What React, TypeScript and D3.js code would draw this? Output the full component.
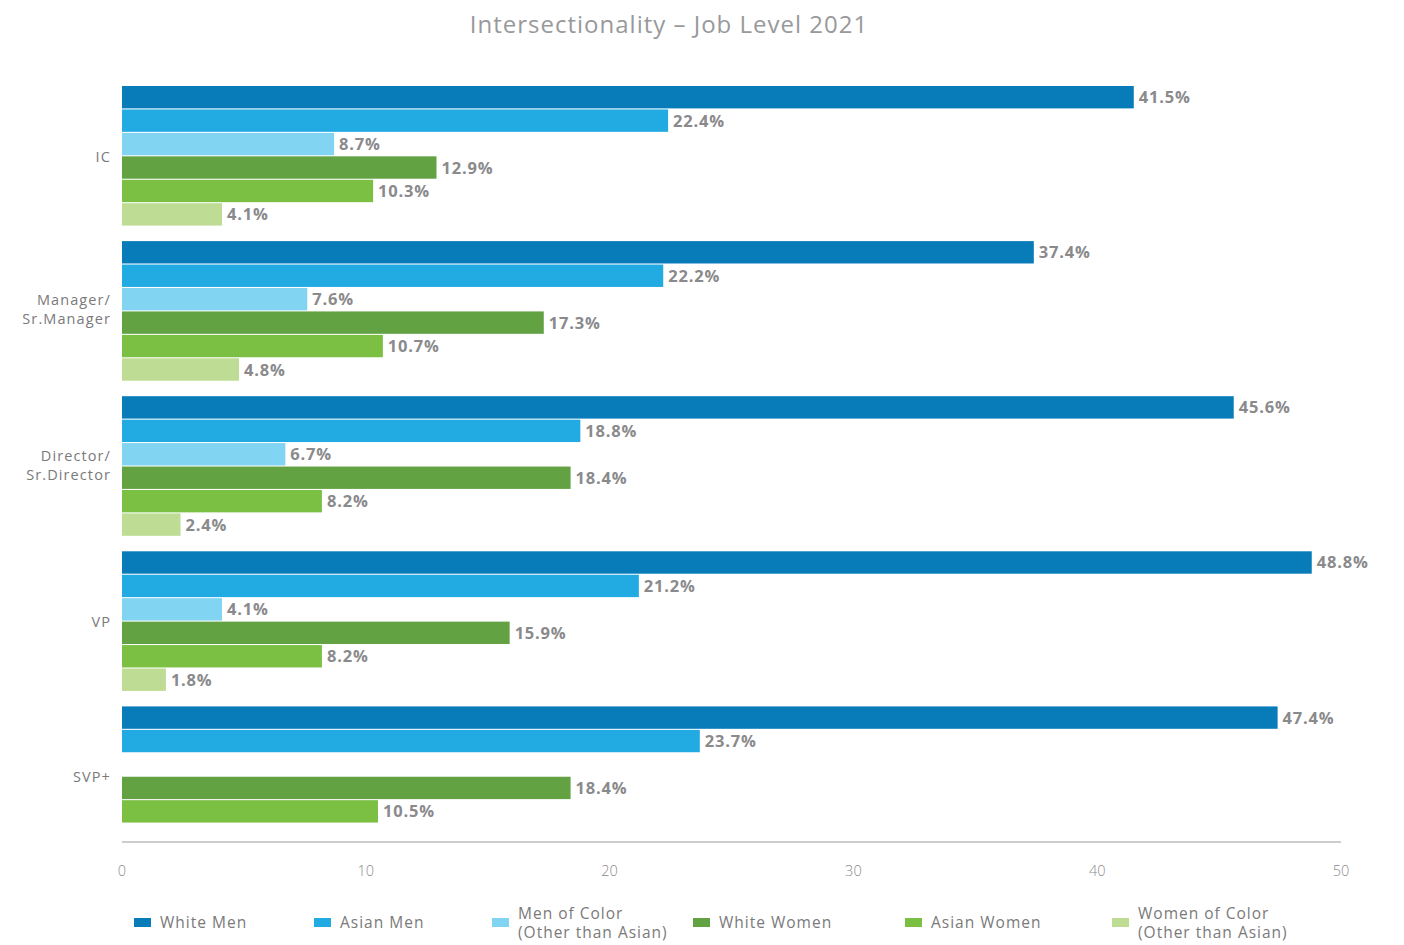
import React from "react";
import * as d3 from "d3";

const title = "Intersectionality – Job Level 2021";
const categories = ["IC", "Manager/\nSr.Manager", "Director/\nSr.Director", "VP", "SVP+"];
const seriesNames = [
  "White Men",
  "Asian Men",
  "Men of Color\n(Other than Asian)",
  "White Women",
  "Asian Women",
  "Women of Color\n(Other than Asian)",
];
const seriesColors = ["#077cb9", "#22aae2", "#81d4f2", "#63a243", "#7bc043", "#bedc93"];
const whiteMen = [41.5, 37.4, 45.6, 48.8, 47.4];
const asianMen = [22.4, 22.2, 18.8, 21.2, 23.7];
const menOfColor = [8.7, 7.6, 6.7, 4.1, null];
const whiteWomen = [12.9, 17.3, 18.4, 15.9, 18.4];
const asianWomen = [10.3, 10.7, 8.2, 8.2, 10.5];
const womenOfColor = [4.1, 4.8, 2.4, 1.8, null];
const xTicks = [0, 10, 20, 30, 40, 50];

const seriesValues = [whiteMen, asianMen, menOfColor, whiteWomen, asianWomen, womenOfColor];

const W = 1404;
const H = 945;
const FONT = "'Open Sans', sans-serif";
const legendX = [134, 314, 492, 693, 905, 1112];

export default function App() {
  const left = 122;
  const right = 1341;
  const axisY = 842;
  const x = d3.scaleLinear().domain([0, 50]).range([left, right]);
  const y = d3.scaleBand<string>().domain(categories).range([86, 846]).paddingInner(0.1).paddingOuter(0);
  const inner = d3
    .scaleBand<number>()
    .domain(d3.range(seriesNames.length))
    .range([0, y.bandwidth()])
    .paddingInner(0.045);

  return (
    <svg
      width={W}
      height={H}
      style={{ display: "block", position: "absolute", left: 0, top: 0 }}
      fontFamily={FONT}
    >
      <rect width={W} height={H} fill="#fff" />
      <text x={669} y={33} textAnchor="middle" fontSize={24} letterSpacing={1} fill="#98999b">
        {title}
      </text>
      {categories.map((c, ci) => {
        const y0 = y(c)!;
        const lines = c.split("\n");
        const cy = y0 + y.bandwidth() / 2 + (lines.length > 1 ? -1 : 1);
        return (
          <g key={c}>
            <text x={111} textAnchor="end" fontSize={14.5} letterSpacing={1.1} fill="#7a7a7a">
              {lines.map((l, li) => (
                <tspan key={li} x={111} y={cy + (li - (lines.length - 1) / 2) * 19 + 5}>
                  {l}
                </tspan>
              ))}
            </text>
            {seriesValues.map((vals, si) => {
              const v = vals[ci];
              if (v == null) return null;
              const by = y0 + inner(si)!;
              const bh = inner.bandwidth();
              return (
                <g key={si}>
                  <rect x={x(0)} y={by} width={x(v) - x(0)} height={bh} fill={seriesColors[si]} />
                  <text
                    x={x(v) + 5}
                    y={by + bh / 2 + 6}
                    fontSize={16.5}
                    fontWeight={700}
                    letterSpacing={0.8}
                    fill="#8a8a8c"
                  >
                    {v.toFixed(1)}%
                  </text>
                </g>
              );
            })}
          </g>
        );
      })}
      <line x1={left} x2={right} y1={axisY} y2={axisY} stroke="#bdbdbd" strokeWidth={1.5} />
      {xTicks.map((t) => (
        <text key={t} x={x(t)} y={876} textAnchor="middle" fontSize={14.5} fill="#8a8a8a" fontWeight={300}>
          {t}
        </text>
      ))}
      {seriesNames.map((n, i) => {
        const lines = n.split("\n");
        const lx = legendX[i];
        return (
          <g key={n}>
            <rect x={lx} y={918} width={17} height={9} fill={seriesColors[i]} />
            <text fontSize={15.5} letterSpacing={1} fill="#7a7a7a">
              {lines.map((l, li) => (
                <tspan key={li} x={lx + 26} y={928 + (li - (lines.length - 1) / 2) * 19}>
                  {l}
                </tspan>
              ))}
            </text>
          </g>
        );
      })}
    </svg>
  );
}
